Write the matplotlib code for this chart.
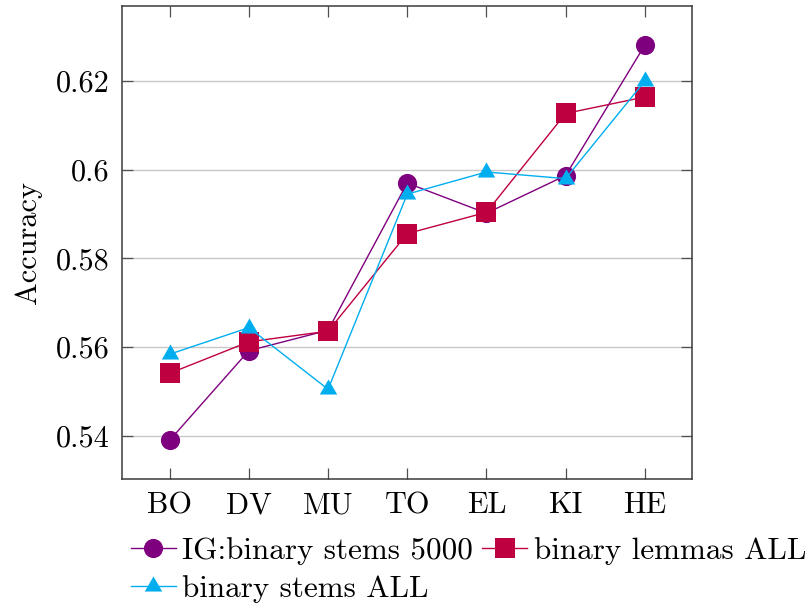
import matplotlib
matplotlib.use("Agg")
import matplotlib.pyplot as plt
from matplotlib.path import Path
import numpy as np

plt.rcParams['font.family'] = ['cmr10']
plt.rcParams['mathtext.fontset'] = 'cm'
plt.rcParams['axes.formatter.use_mathtext'] = True

categories = ["BO", "DV", "MU", "TO", "EL", "KI", "HE"]
ig_stems_5000 = [0.5390, 0.5592, 0.5638, 0.5970, 0.5902, 0.5987, 0.6281]
lemmas_all = [0.5541, 0.5612, 0.5636, 0.5856, 0.5904, 0.6127, 0.6164]
stems_all = [0.5584, 0.5644, 0.5505, 0.5945, 0.5995, 0.5980, 0.6200]
labels = ["IG:binary stems 5000", "binary lemmas ALL", "binary stems ALL"]
yticks = [0.54, 0.56, 0.58, 0.60, 0.62]
ytick_labels = ["0.54", "0.56", "0.58", "0.6", "0.62"]

c_violet = "#7f007f"
c_purple = "#bf0040"
c_cyan = "#00aeef"

# equilateral triangle marker (centred on its circumcentre)
tri = Path([(0, 1), (-np.sqrt(3) / 2, -0.5), (np.sqrt(3) / 2, -0.5), (0, 1)],
           [Path.MOVETO, Path.LINETO, Path.LINETO, Path.CLOSEPOLY])

fs = 21.8
fs_leg = 22.4
fig = plt.figure(figsize=(8.07, 6.04), dpi=100)
ax = fig.add_axes([0.1508, 0.2065, 0.7071, 0.7841])

x = np.arange(len(categories))
h1, = ax.plot(x, ig_stems_5000, color=c_violet, lw=1.0, marker="o", markersize=13.8,
              markeredgewidth=0, label=labels[0], zorder=3)
h2, = ax.plot(x, lemmas_all, color=c_purple, lw=1.0, marker="s", markersize=13.8,
              markeredgewidth=0, label=labels[1], zorder=4)
h3, = ax.plot(x, stems_all, color=c_cyan, lw=1.0, marker=tri, markersize=14.5,
              markeredgewidth=0, label=labels[2], zorder=5)

ax.set_xlim(-0.606, 6.6)
ax.set_ylim(0.5302, 0.637)
ax.set_xticks(x)
ax.set_xticklabels(categories, fontsize=fs)
ax.set_yticks(yticks)
ax.set_yticklabels(ytick_labels, fontsize=fs)

ax.yaxis.grid(True, color="#c8c8c8", lw=1.0)
ax.set_axisbelow(True)

for s in ax.spines.values():
    s.set_color("#3a3a3a")
    s.set_linewidth(1.1)
ax.tick_params(axis="both", direction="in", length=8, width=0.9, color="#505050",
               top=True, right=True, pad=9)

ax.set_ylabel("Accuracy", fontsize=fs)
ax.yaxis.set_label_coords(-0.1397, 0.5)

# entries laid out row by row: matplotlib fills columns first
ax.legend([h1, h3, h2], [labels[0], labels[2], labels[1]],
          loc="upper left", bbox_to_anchor=(0.0158, -0.1215), ncol=2,
          frameon=False, fontsize=fs_leg, borderpad=0, borderaxespad=0,
          handlelength=1.45, handletextpad=0.2, columnspacing=0.3,
          labelspacing=0.32)

fig.savefig("out.png", dpi=100)
